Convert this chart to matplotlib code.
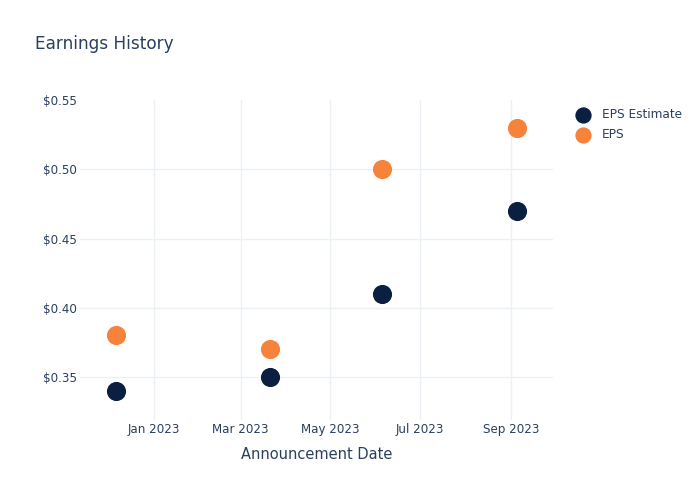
import numpy as np
import matplotlib.pyplot as plt
import matplotlib.dates as mdates
from matplotlib.ticker import FuncFormatter, FixedLocator
from datetime import datetime

dates = ['2022-12-06', '2023-03-21', '2023-06-05', '2023-09-05']
eps_estimate = [0.34, 0.35, 0.41, 0.47]
eps_actual = [0.38, 0.37, 0.50, 0.53]

x = [datetime.strptime(d, '%Y-%m-%d') for d in dates]

txt = '#2a3f5f'
grid = '#ebf0f8'

fig = plt.figure(figsize=(7, 5), dpi=100)
ax = fig.add_axes([80 / 700, 80 / 500, 473 / 700, 320 / 500])

ax.scatter(x, eps_estimate, s=190, color='#0b1f41', label='EPS Estimate', zorder=3, linewidths=0)
ax.scatter(x, eps_actual, s=190, color='#f7823b', label='EPS', zorder=3, linewidths=0)

ax.set_xlim(datetime(2022, 11, 11, 14), datetime(2023, 9, 29, 14))
ax.set_ylim(0.319, 0.55)

ticks = [datetime(2023, m, 1) for m in (1, 3, 5, 7, 9)]
ax.xaxis.set_major_locator(FixedLocator(mdates.date2num(ticks)))
ax.xaxis.set_major_formatter(mdates.DateFormatter('%b %Y'))
ax.yaxis.set_major_locator(FixedLocator([0.35, 0.40, 0.45, 0.50, 0.55]))
ax.yaxis.set_major_formatter(FuncFormatter(lambda v, p: '$%.2f' % v))

ax.grid(True, color=grid, linewidth=1)
ax.get_ygridlines()[-1].set_visible(False)  # top line not drawn in plotly
ax.set_axisbelow(True)
for s in ax.spines.values():
    s.set_visible(False)
ax.tick_params(length=0, labelsize=8.6, colors=txt, pad=2)
ax.tick_params(axis='y', pad=2)

ax.set_xlabel('Announcement Date', fontsize=10.5, color=txt, labelpad=8)
fig.text(35 / 700, 1 - 44 / 500, 'Earnings History', fontsize=12.2, color=txt, va='center')

leg = ax.legend(loc='upper left', bbox_to_anchor=(1.027, 0.99), frameon=False,
                fontsize=8.7, labelcolor=txt, handletextpad=0.6, borderaxespad=0,
                labelspacing=0.55, markerscale=0.85)

plt.savefig('out.png', dpi=100)
